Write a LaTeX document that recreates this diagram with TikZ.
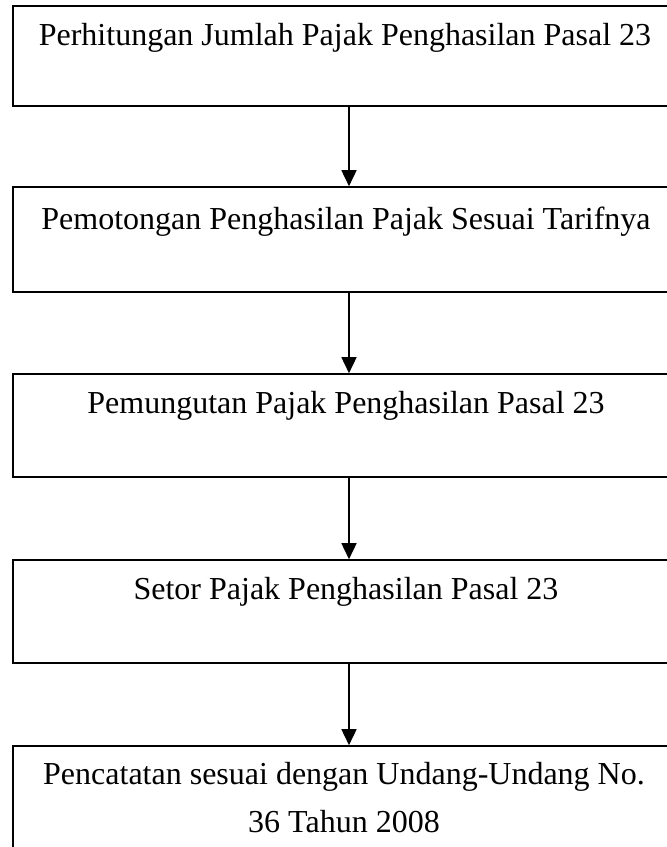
\documentclass[tikz,border=0pt]{standalone}
\usepackage{fontspec}
\setmainfont{Liberation Serif}
\usepackage{xcolor}
\usepackage{tikz}
\usetikzlibrary{arrows.meta}

\tikzset{
  stepbox/.style={draw, line width=1.6pt, minimum width=672pt, minimum height=103pt, inner sep=0pt},
  steptext/.style={anchor=base, align=center, inner sep=0pt, font=\fontsize{32}{48}\selectfont},
  steparrow/.style={line width=1.6pt, -{Triangle[width=15pt,length=16pt]}}
}

\begin{document}
\begin{tikzpicture}[x=1pt,y=1pt]
\path[use as bounding box, clip] (0,0) rectangle (667,-847);
\node[stepbox, minimum height=100pt] (hitung) at (349,-56) {};
\node[stepbox, minimum height=105pt] (potong) at (349,-239.5) {};
\node[stepbox] (pungut) at (349,-425.5) {};
\node[stepbox] (setor) at (349,-611.5) {};
\node[stepbox, minimum height=110pt] (catat) at (349,-801) {};
\node[steptext] (thitung) at ([xshift=-4pt,yshift=-40pt]hitung.north) {Perhitungan Jumlah Pajak Penghasilan Pasal 23};
\node[steptext] (tpotong) at ([xshift=-3pt,yshift=-43pt]potong.north) {Pemotongan Penghasilan Pajak Sesuai Tarifnya};
\node[steptext] (tpungut) at ([xshift=-3pt,yshift=-40pt]pungut.north) {Pemungutan Pajak Penghasilan Pasal 23};
\node[steptext] (tsetor) at ([xshift=-3pt,yshift=-40pt]setor.north) {Setor Pajak Penghasilan Pasal 23};
\node[steptext, anchor=north] (tcatat) at ([xshift=-5pt,yshift=-17pt]catat.north) {Pencatatan sesuai dengan Undang-Undang No.\\36 Tahun 2008};
\draw[steparrow] (hitung) -- (potong);
\draw[steparrow] (potong) -- (pungut);
\draw[steparrow] (pungut) -- (setor);
\draw[steparrow] (setor) -- (catat);
\end{tikzpicture}
\end{document}
